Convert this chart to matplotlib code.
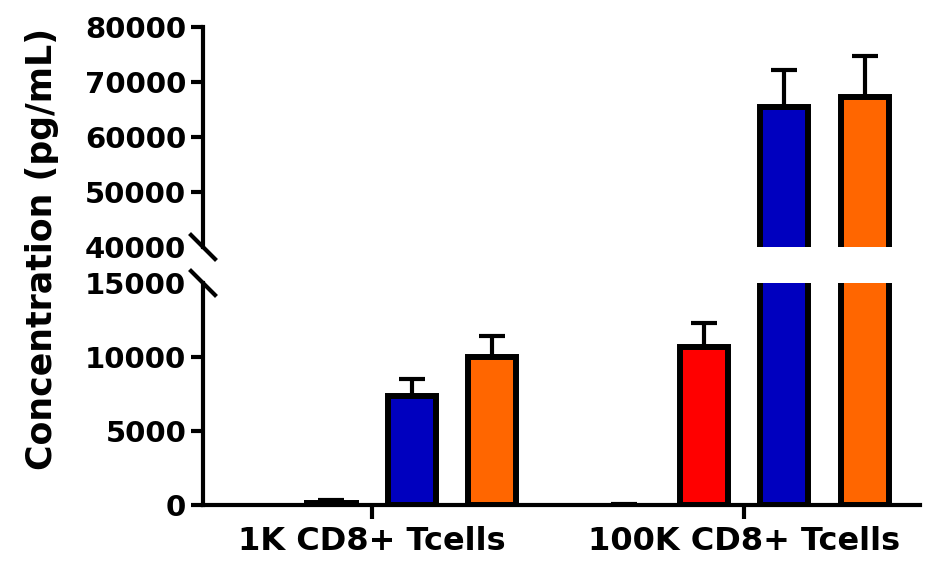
import numpy as np
import matplotlib
matplotlib.use("Agg")
import matplotlib.pyplot as plt

# the reference text is wide and bold; DejaVu Sans Bold fits its box best
plt.rcParams['font.family'] = ['DejaVu Sans']
plt.rcParams['font.weight'] = 'bold'

# Data
groups = ["1K CD8+ Tcells", "100K CD8+ Tcells"]
colors = ["#FFFFFF", "#FF0000", "#0000BF", "#FF6600"]
means = [
    [0, 150, 7350, 10000],
    [0, 10650, 65400, 67300],
]
errs = [
    [0, 200, 1150, 1400],
    [60, 1650, 6700, 7500],
]
lower_ticks = [0, 5000, 10000, 15000]
upper_ticks = [40000, 50000, 60000, 70000, 80000]

W, H = 925, 562
fig = plt.figure(figsize=(W / 100, H / 100), dpi=100)

left, right = 203 / W, 920 / W
ax_lo = fig.add_axes([left, 1 - 505 / H, right - left, (505 - 283) / H])
ax_hi = fig.add_axes([left, 1 - 247 / H, right - left, (247 - 27) / H])

group_gap = 4.64
bar_w = 0.6
lw_edge = 4.3

for ax in (ax_lo, ax_hi):
    for g in range(len(groups)):
        for i in range(4):
            x = g * group_gap + i
            # zero-height bars are not drawn in the original
            if means[g][i] > 0:
                ax.bar(x, means[g][i], width=bar_w, color=colors[i],
                       edgecolor="black", linewidth=lw_edge, zorder=2)
            if errs[g][i] > 0:
                ax.errorbar(x, means[g][i], yerr=[[0], [errs[g][i]]],
                            fmt="none", ecolor="black", elinewidth=3,
                            capsize=9.7, capthick=3, zorder=1)
    ax.set_xlim(-0.6, 8.33)
    for s in ("top", "right"):
        ax.spines[s].set_visible(False)
    ax.spines["left"].set_linewidth(3)
    ax.spines["bottom"].set_linewidth(3)
    ax.tick_params(axis="y", length=9, width=3, labelsize=21, pad=3)

ax_lo.set_ylim(0, 15000)
ax_lo.set_yticks(lower_ticks)
ax_lo.set_yticklabels([str(t) for t in lower_ticks])
ax_lo.set_xticks([1.5, group_gap + 1.5])
ax_lo.set_xticklabels(groups)
ax_lo.tick_params(axis="x", length=10, width=3, labelsize=23, pad=5)
ax_lo.yaxis.get_major_ticks()[-1].tick1line.set_visible(False)

ax_hi.set_ylim(40000, 80000)
ax_hi.set_yticks(upper_ticks)
ax_hi.set_yticklabels([str(t) for t in upper_ticks])
ax_hi.spines["bottom"].set_visible(False)
ax_hi.set_xticks([])
ax_hi.yaxis.get_major_ticks()[0].tick1line.set_visible(False)

for lab in ax_lo.get_xticklabels() + ax_lo.get_yticklabels() + ax_hi.get_yticklabels():
    lab.set_fontweight("bold")

# break marks
def brk(ax, yfrac):
    bb = ax.get_position()
    dx = 12 / (bb.width * W)
    dy = 12 / (bb.height * H)
    ax.plot([-dx, dx], [yfrac + dy, yfrac - dy], transform=ax.transAxes,
            color="black", linewidth=3, clip_on=False)

brk(ax_hi, 0)
brk(ax_lo, 1)

fig.text(42 / W, 1 - 249 / H, "Concentration (pg/mL)", rotation=90,
         ha="center", va="center", fontsize=25, fontweight="bold")

fig.savefig("out.png", dpi=100)
